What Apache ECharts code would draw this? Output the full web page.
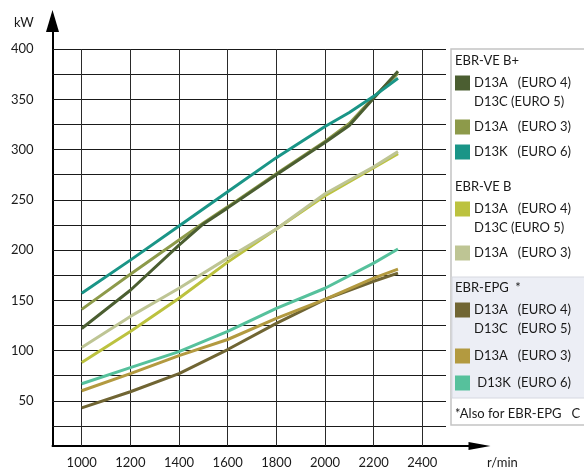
<!DOCTYPE html>
<html>
<head>
<meta charset="utf-8">
<script src="https://cdn.jsdelivr.net/npm/echarts@6/dist/echarts.min.js"></script>
<style>
html,body{margin:0;padding:0;background:#fff;}
#chart{width:584px;height:468px;}
</style>
</head>
<body>
<div id="chart"></div>
<script>
// ---- data ----
const xTickValues = [1000, 1200, 1400, 1600, 1800, 2000, 2200, 2400];
const yGridValues = [25, 50, 75, 100, 125, 150, 175, 200, 225, 250, 275, 300, 325, 350, 375, 400];
const yLabelValues = [50, 100, 150, 200, 250, 300, 350, 400];

const rpmVeBPlusE4 = [1000, 1200, 1400, 1500, 1600, 1800, 2000, 2100, 2200, 2300];
const kwVeBPlusE4  = [122, 160, 205, 226, 242, 275, 307, 324, 351, 378];
const rpmVeBPlusE3 = [1000, 1200, 1400, 1500, 1600, 1800, 2000, 2100, 2200, 2300];
const kwVeBPlusE3  = [141, 176, 210, 227, 243, 276, 308, 326, 352, 376];
const rpmVeBPlusE6 = [1000, 1200, 1400, 1600, 1800, 2000, 2100, 2200, 2300];
const kwVeBPlusE6  = [157, 190, 224, 258, 292, 323, 337, 353, 371];
const rpmStd = [1000, 1200, 1400, 1600, 1800, 2000, 2200, 2300];
const kwVeBE4  = [88, 119, 152, 188, 221, 254, 282, 296];
const kwVeBE3  = [103, 134, 162, 192, 221, 256, 283, 298];
const kwEpgE4  = [43, 59, 77, 101, 127, 151, 169, 177];
const kwEpgE3  = [60, 77, 95, 111, 132, 151, 172, 181];
const kwEpgE6  = [67, 83, 99, 119, 142, 162, 187, 201];

const sectionTitles = ['EBR-VE B+', 'EBR-VE B', 'EBR-EPG  *'];
const footnote = '*Also for EBR-EPG   C';

// series: section, legend lines, colour, rpm, kW
const seriesDefs = [
  {sec: 0, lines: ['D13A   (EURO 4)', 'D13C (EURO 5)'], color: '#4b5e31', rpm: rpmVeBPlusE4, kw: kwVeBPlusE4, order: 1},
  {sec: 0, lines: ['D13A   (EURO 3)'], color: '#8d9a4a', rpm: rpmVeBPlusE3, kw: kwVeBPlusE3, order: 0},
  {sec: 0, lines: ['D13K   (EURO 6)'], color: '#1a9587', rpm: rpmVeBPlusE6, kw: kwVeBPlusE6, order: 2},
  {sec: 1, lines: ['D13A   (EURO 4)', 'D13C (EURO 5)'], color: '#bcc23f', rpm: rpmStd, kw: kwVeBE4, order: 3},
  {sec: 1, lines: ['D13A   (EURO 3)'], color: '#bec594', rpm: rpmStd, kw: kwVeBE3, order: 4},
  {sec: 2, lines: ['D13A   (EURO 4)', 'D13C   (EURO 5)'], color: '#706533', rpm: rpmStd, kw: kwEpgE4, order: 5},
  {sec: 2, lines: ['D13A   (EURO 3)'], color: '#b39a40', rpm: rpmStd, kw: kwEpgE3, order: 6},
  {sec: 2, lines: [' D13K  (EURO 6)'], color: '#56c19c', rpm: rpmStd, kw: kwEpgE6, order: 7}
];

// ---- build ----
const FONT = 'Lato, "Noto Sans", sans-serif';
const series = seriesDefs.slice().sort((a, b) => a.order - b.order).map(d => ({
  type: 'line',
  name: sectionTitles[d.sec] + ' ' + d.lines.join(' / '),
  data: d.rpm.map((r, i) => [r, d.kw[i]]),
  showSymbol: false,
  symbol: 'none',
  smooth: false,
  lineStyle: {color: d.color, width: 3},
  itemStyle: {color: d.color},
  z: 3 + d.order
}));

// legend graphic
const g = [];
const LX = 451, LTOP = 49, LBOTTOM = 425;
g.push({type: 'rect', shape: {x: LX, y: LTOP, width: 200, height: LBOTTOM - LTOP},
  style: {fill: '#ffffff', stroke: '#c4c4c4', lineWidth: 1.5}, z: 10});
let cy = 61;
let shadeTop = null, shadeBottom = null;
const texts = [];
for (let s = 0; s < sectionTitles.length; s++) {
  if (s > 0) cy += 10;
  if (s === 2) shadeTop = cy - 11;
  texts.push({type: 'text', style: {text: sectionTitles[s], x: 455, y: cy, font: '13px ' + FONT, fill: '#1a1a1a', verticalAlign: 'middle'}, z: 13});
  cy += 22;
  seriesDefs.filter(d => d.sec === s).forEach(d => {
    texts.push({type: 'rect', shape: {x: 455, y: cy - 7.5, width: 15, height: 15}, style: {fill: d.color}, z: 13});
    d.lines.forEach((ln, li) => {
      texts.push({type: 'text', style: {text: ln, x: 474, y: cy, font: '13px ' + FONT, fill: '#1a1a1a', verticalAlign: 'middle'}, z: 13});
      if (li < d.lines.length - 1) cy += 19;
    });
    cy += (s === 2 ? 27 : 25);
  });
  if (s === 2) shadeBottom = cy - 12;
}
g.push({type: 'rect', shape: {x: LX + 1, y: shadeTop, width: 200, height: shadeBottom - shadeTop},
  style: {fill: '#eceef5', stroke: '#d6d8e0', lineWidth: 1}, z: 11});
texts.push({type: 'text', style: {text: footnote, x: 455, y: cy + 4, font: '13px ' + FONT, fill: '#1a1a1a', verticalAlign: 'middle'}, z: 13});
g.push(...texts);
g.push({type: 'text', style: {text: 'kW', x: 14, y: 23, font: '13px ' + FONT, fill: '#1a1a1a', verticalAlign: 'middle'}, z: 13});
g.push({type: 'text', style: {text: 'r/min', x: 487, y: 463, font: '13px ' + FONT, fill: '#1a1a1a', verticalAlign: 'middle'}, z: 13});

const chart = echarts.init(document.getElementById('chart'), null, {renderer: 'canvas'});
chart.setOption({
  animation: false,
  backgroundColor: '#ffffff',
  grid: {left: 52.5, right: 104.5, top: 21, bottom: 22, containLabel: false, outerBoundsMode: 'none'},
  xAxis: {
    type: 'value', min: 880, max: 2635,
    axisLine: {onZero: false, lineStyle: {color: '#000', width: 2}, symbol: ['none', 'triangle'], symbolSize: [8, 22]},
    axisTick: {show: true, inside: true, length: 397, customValues: xTickValues, lineStyle: {color: '#2a2a2a', width: 1}},
    axisLabel: {customValues: xTickValues, margin: 10, fontSize: 13, fontFamily: FONT, color: '#1a1a1a',
      formatter: v => String(v)},
    splitLine: {show: false}
  },
  yAxis: {
    type: 'value', min: 5, max: 428,
    axisLine: {show: true, onZero: false, lineStyle: {color: '#000', width: 2}, symbol: ['none', 'triangle'], symbolSize: [13, 22]},
    axisTick: {show: true, inside: true, length: 393.5, customValues: yGridValues, lineStyle: {color: '#1a1a1a', width: 1}},
    axisLabel: {customValues: yLabelValues, margin: 19, fontSize: 13, fontFamily: FONT, color: '#1a1a1a',
      formatter: v => String(v)},
    splitLine: {show: false}
  },
  series: series,
  graphic: g
});
</script>
</body>
</html>
